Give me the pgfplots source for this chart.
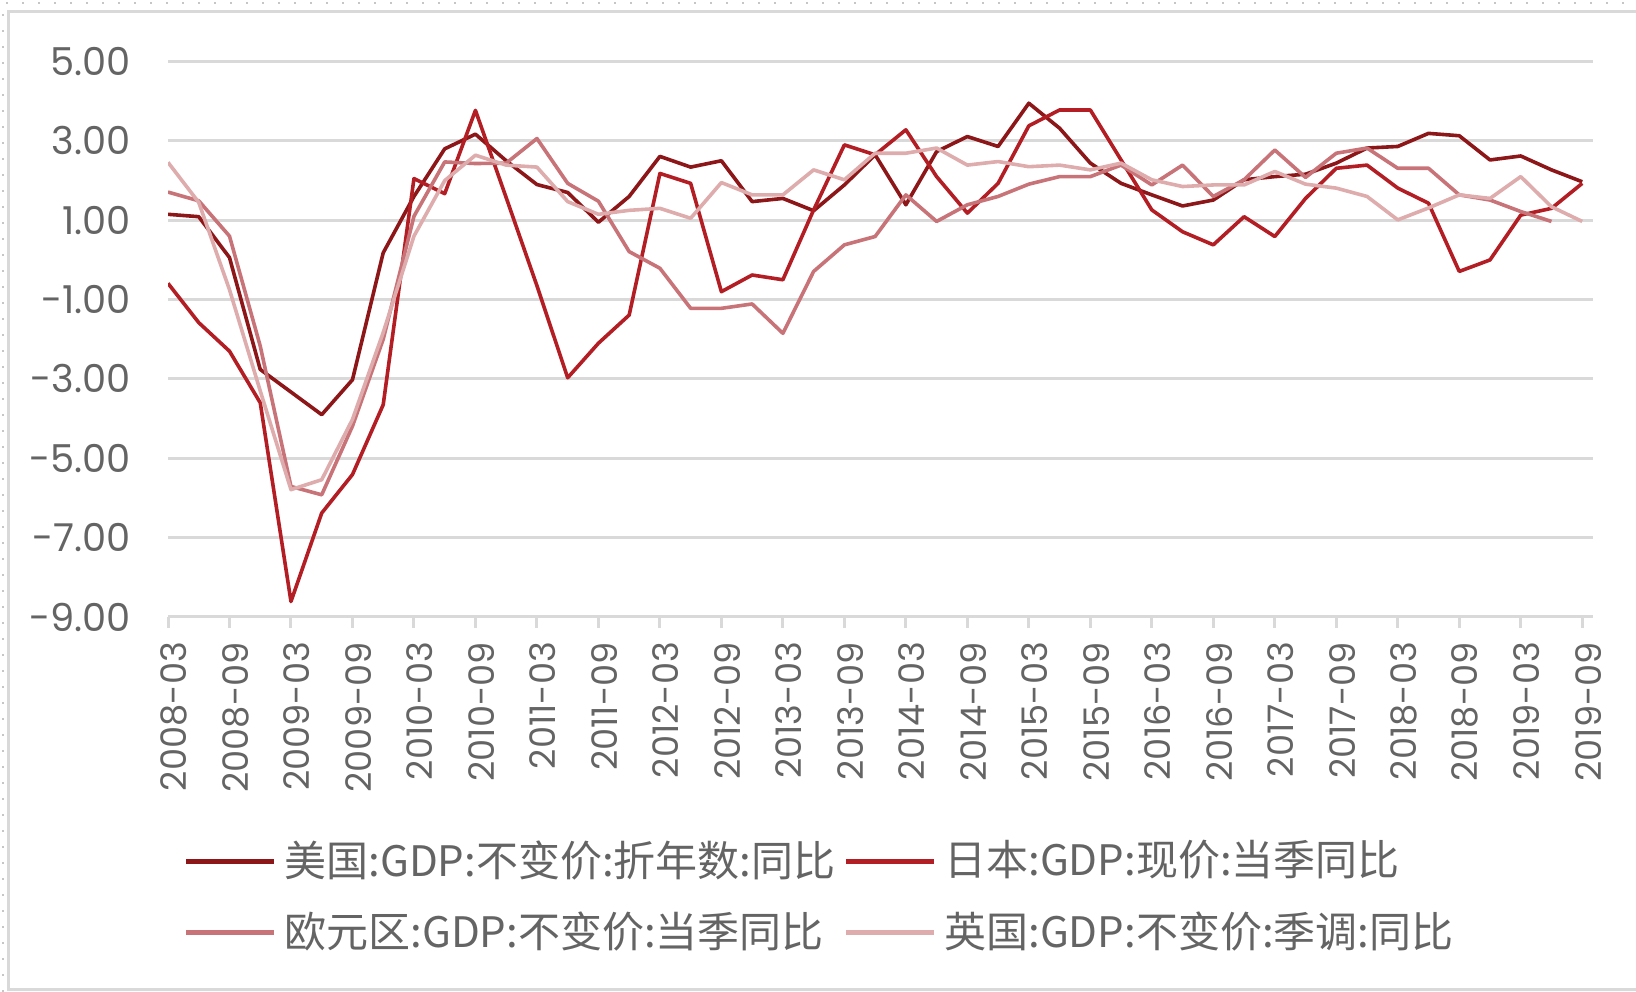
\documentclass[border=0pt]{standalone}
\usepackage{fontspec}
\usepackage{pgfplots}
\usepackage{pgfplotstable}
\pgfplotsset{compat=1.18}
\setmainfont{Poppins}
\newfontfamily\cjk{Noto Sans CJK SC}

\definecolor{usred}{RGB}{140,22,24}
\definecolor{jpred}{RGB}{178,30,35}
\definecolor{eured}{RGB}{200,115,120}
\definecolor{ukred}{RGB}{222,172,172}
\definecolor{gridgray}{RGB}{217,217,217}
\definecolor{txtgray}{RGB}{100,100,100}

% quarterly, i=0 is 2008-03
\pgfplotstableread{
i us jp eu uk
0 1.15 -0.59 1.71 2.46
1 1.09 -1.58 1.49 1.45
2 0.06 -2.30 0.60 -0.75
3 -2.76 -3.60 -2.17 -3.30
4 -3.33 -8.61 -5.71 -5.79
5 -3.90 -6.38 -5.92 -5.54
6 -3.02 -5.41 -4.19 -4.02
7 0.18 -3.65 -2.00 -1.83
8 1.60 2.05 1.10 0.60
9 2.80 1.67 2.47 2.00
10 3.17 3.77 2.43 2.64
11 2.50 1.57 2.44 2.39
12 1.90 -0.65 3.06 2.34
13 1.70 -2.97 1.93 1.47
14 0.95 -2.10 1.48 1.15
15 1.60 -1.39 0.21 1.25
16 2.61 2.18 -0.21 1.30
17 2.34 1.93 -1.22 1.05
18 2.50 -0.80 -1.22 1.95
19 1.47 -0.38 -1.11 1.64
20 1.55 -0.50 -1.85 1.64
21 1.24 1.26 -0.29 2.27
22 1.89 2.90 0.38 2.02
23 2.65 2.65 0.59 2.69
24 1.39 3.28 1.64 2.69
25 2.73 2.10 0.97 2.82
26 3.11 1.18 1.39 2.39
27 2.86 1.93 1.60 2.48
28 3.95 3.38 1.91 2.35
29 3.32 3.78 2.10 2.39
30 2.44 3.78 2.10 2.27
31 1.93 2.52 2.39 2.44
32 1.64 1.26 1.89 2.02
33 1.36 0.71 2.39 1.85
34 1.51 0.38 1.60 1.89
35 2.02 1.09 2.02 1.89
36 2.10 0.59 2.77 2.23
37 2.16 1.55 2.08 1.91
38 2.44 2.31 2.69 1.81
39 2.82 2.39 2.82 1.60
40 2.86 1.81 2.31 1.01
41 3.19 1.43 2.31 1.31
42 3.13 -0.29 1.64 1.64
43 2.52 0.00 1.51 1.55
44 2.62 1.13 1.22 2.10
45 2.27 1.30 0.97 1.34
46 1.97 1.93 nan 0.97
}\gdpdata

\begin{document}
\begin{tikzpicture}
\path[use as bounding box] (0,0) rectangle (409pt,248pt);
% frame round the chart
\draw[gray!45, line width=0.4pt, dash pattern=on 0.5pt off 3.5pt] (0.75pt,0pt) -- (0.75pt,247.25pt) -- (409pt,247.25pt);
\draw[gridgray, line width=0.75pt] (409pt,245pt) -- (2pt,245pt) -- (2pt,0.5pt) -- (409pt,0.5pt);
\begin{axis}[
    scale only axis,
    width=356.25pt, height=138.85pt,
    at={(42pt,93.75pt)}, anchor=south west,
    xmin=0, xmax=46.35,
    ymin=-9, ymax=5,
    ytick={-9,-7,...,5},
    yticklabels={-9.00,-7.00,-5.00,-3.00,-1.00,1.00,3.00,5.00},
    xtick={0,2,...,46},
    xticklabels={2008-03,2008-09,2009-03,2009-09,2010-03,2010-09,2011-03,2011-09,2012-03,2012-09,2013-03,2013-09,2014-03,2014-09,2015-03,2015-09,2016-03,2016-09,2017-03,2017-09,2018-03,2018-09,2019-03,2019-09},
    axis lines*=left,
    x axis line style={-, gridgray, line width=0.75pt},
    y axis line style={draw=none},
    ytick style={draw=none},
    xtick style={gridgray, line width=0.75pt},
    tick align=outside,
    major tick length=2.75pt,
    ymajorgrids,
    major grid style={gridgray, line width=0.75pt},
    ticklabel style={text=txtgray},
    yticklabel style={font=\fontsize{9.6}{12}\selectfont, xshift=-3pt},
    xticklabel style={font=\fontsize{8.8}{11}\selectfont, rotate=90, anchor=east, yshift=-1.5pt},
    legend columns=2,
    legend cell align=left,
    legend style={at={(0.002,-0.372)}, anchor=north west, draw=none, fill=none,
        font=\cjk\fontsize{10.5}{12}\selectfont, text=txtgray,
        /tikz/every even column/.append style={column sep=0pt},
        nodes={inner xsep=2pt},
        row sep=3.5pt},
    legend image code/.code={\draw[#1, line width=1.2pt] (0pt,0pt) -- (22pt,0pt);},
    every axis plot/.append style={mark=none, line width=0.9pt, line join=round},
]
\addplot[color=usred] table[x=i, y=us] {\gdpdata};
\addlegendentry{美国:GDP:不变价:折年数:同比}
\addplot[color=jpred] table[x=i, y=jp] {\gdpdata};
\addlegendentry{日本:GDP:现价:当季同比}
\addplot[color=eured] table[x=i, y=eu] {\gdpdata};
\addlegendentry{欧元区:GDP:不变价:当季同比}
\addplot[color=ukred] table[x=i, y=uk] {\gdpdata};
\addlegendentry{英国:GDP:不变价:季调:同比}
\end{axis}
\end{tikzpicture}
\end{document}
